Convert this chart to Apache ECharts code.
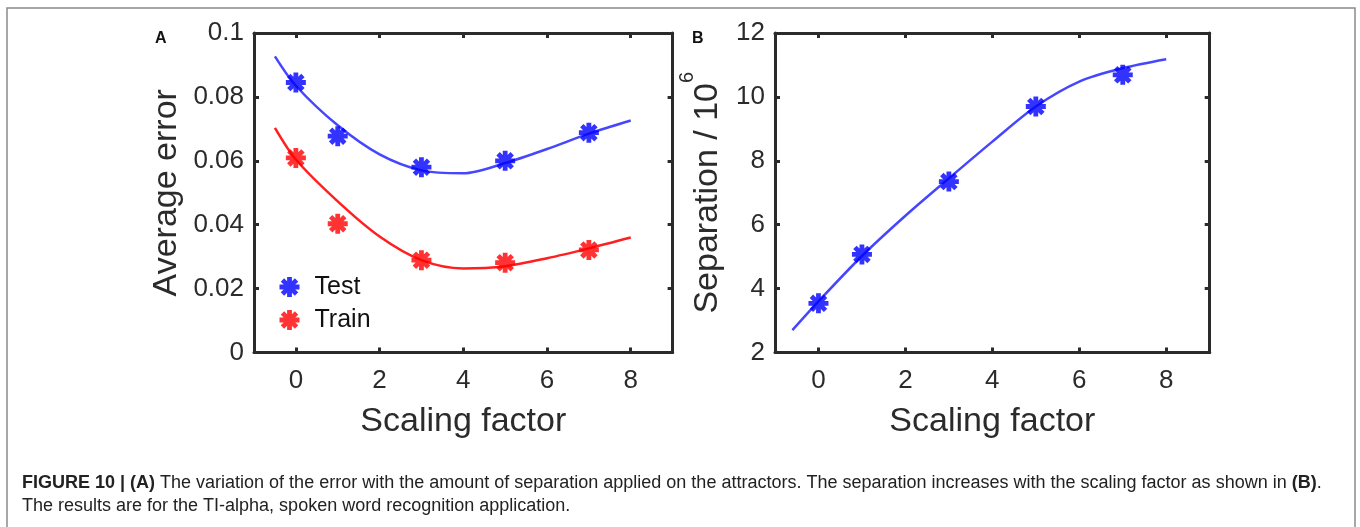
<!DOCTYPE html>
<html>
<head>
<meta charset="utf-8">
<script src="https://cdn.jsdelivr.net/npm/echarts@6.0.0/dist/echarts.min.js"></script>
<style>
  html, body { margin: 0; padding: 0; background: #fff; }
  #chart { width: 1360px; height: 527px; }
</style>
</head>
<body>
<div id="chart"></div>
<script>
// measured points
const scale = [0, 1, 3, 5, 7];
const testErr = [0.0845, 0.0677, 0.058, 0.060, 0.0688];
const trainErr = [0.0609, 0.0403, 0.0289, 0.0281, 0.0321];
const separation = [3.54, 5.07, 7.35, 9.70, 10.69];

// fitted curves
const fitX = [-0.5, 0, 1, 2, 3, 4, 5, 6, 7, 8];
const testFit = [0.0927, 0.0835, 0.0711, 0.062, 0.057, 0.0561, 0.0593, 0.0637, 0.0685, 0.0726];
const trainFit = [0.0703, 0.0604, 0.0473, 0.0363, 0.0289, 0.0263, 0.027, 0.0295, 0.0326, 0.036];
const sepFitX = [-0.6, 0, 1, 2, 3, 4, 5, 6, 7, 8];
const sepFit = [2.70, 3.60, 5.02, 6.28, 7.45, 8.60, 9.70, 10.48, 10.90, 11.18];

const xTicks = [0, 2, 4, 6, 8];

const FONT = "Liberation Sans";
const AX = "#2b2b2b";
// asterisk marker like matlab '*' (one outline, 8 arms)
const STAR = "path://M20 7.6L20 12.4L15.795 12.4L18.768 15.374L15.374 18.768L12.4 15.795L12.4 20L7.6 20L7.6 15.795L4.626 18.768L1.232 15.374L4.205 12.4L0 12.4L0 7.6L4.205 7.6L1.232 4.626L4.626 1.232L7.6 4.205L7.6 0L12.4 0L12.4 4.205L15.374 1.232L18.768 4.626L15.795 7.6Z";

const zip = (xs, ys) => xs.map((x, i) => [x, ys[i]]);

function xAxes(grid) {
  return [
    {
      type: "value", gridIndex: grid, min: -1, max: 9, position: "bottom",
      name: "Scaling factor", nameLocation: "middle", nameGap: 52,
      nameTextStyle: { fontFamily: FONT, fontSize: 34, color: AX },
      axisLine: { onZero: false, lineStyle: { color: AX, width: 3 } },
      axisTick: { inside: true, length: 5, customValues: xTicks, lineStyle: { color: AX, width: 3 } },
      axisLabel: { customValues: xTicks, margin: 15, fontFamily: FONT, fontSize: 26, color: AX },
      splitLine: { show: false }
    },
    {
      type: "value", gridIndex: grid, min: -1, max: 9, position: "top",
      axisLine: { onZero: false, lineStyle: { color: AX, width: 3 } },
      axisTick: { inside: true, length: 5, customValues: xTicks, lineStyle: { color: AX, width: 3 } },
      axisLabel: { show: false },
      splitLine: { show: false }
    }
  ];
}

function yAxes(grid, min, max, step, name, gap, nameStyle) {
  return [
    {
      type: "value", gridIndex: grid, min: min, max: max, interval: step, position: "left",
      name: name, nameLocation: "middle", nameGap: gap,
      nameTextStyle: nameStyle,
      axisLine: { show: true, onZero: false, lineStyle: { color: AX, width: 3 } },
      axisTick: { show: true, inside: true, length: 5, lineStyle: { color: AX, width: 3 } },
      axisLabel: { margin: 10, fontFamily: FONT, fontSize: 26, color: AX },
      splitLine: { show: false }
    },
    {
      type: "value", gridIndex: grid, min: min, max: max, interval: step, position: "right",
      axisLine: { show: true, onZero: false, lineStyle: { color: AX, width: 3 } },
      axisTick: { show: true, inside: true, length: 5, lineStyle: { color: AX, width: 3 } },
      axisLabel: { show: false },
      splitLine: { show: false }
    }
  ];
}

const option = {
  backgroundColor: "#fff",
  animation: false,
  grid: [
    { left: 254, top: 33, width: 418.6, height: 319.5 },
    { left: 775, top: 33, width: 434.7, height: 319.5 }
  ],
  legend: {
    data: ["Test", "Train"],
    orient: "vertical",
    left: 274.5,
    top: 269.5,
    itemWidth: 40,
    itemHeight: 20,
    itemGap: 8,
    textStyle: { fontFamily: FONT, fontSize: 25, color: "#111" }
  },
  xAxis: [...xAxes(0), ...xAxes(1)],
  yAxis: [
    ...yAxes(0, 0, 0.1, 0.02, "Average error", 70,
      { fontFamily: FONT, fontSize: 34, color: AX }),
    ...yAxes(1, 2, 12, 2, "{m|Separation / 10}{s|6}", 36,
      {
        color: AX,
        rich: {
          m: { fontFamily: FONT, fontSize: 34, lineHeight: 62, color: AX },
          s: { fontFamily: FONT, fontSize: 20, lineHeight: 20, verticalAlign: "top", color: AX }
        }
      })
  ],
  graphic: [
    {
      type: "rect", silent: true,
      shape: { x: 7, y: 8, width: 1348, height: 600 },
      style: { fill: "none", stroke: "#8a8a8a", lineWidth: 1.5 }
    },
    {
      type: "text", x: 155, y: 39,
      style: { text: "A", fontFamily: FONT, fontWeight: "bold", fontSize: 16, fill: "#111", verticalAlign: "middle" }
    },
    {
      type: "text", x: 692, y: 39,
      style: { text: "B", fontFamily: FONT, fontWeight: "bold", fontSize: 16, fill: "#111", verticalAlign: "middle" }
    },
    {
      type: "text", x: 22, y: 483,
      style: {
        text: "{b|FIGURE 10 | (A)} The variation of the error with the amount of separation applied on the attractors. The separation increases with the scaling factor as shown in {b|(B)}.",
        fontFamily: FONT, fontSize: 18, fill: "#222", verticalAlign: "middle",
        rich: { b: { fontFamily: FONT, fontSize: 18, fontWeight: "bold", fill: "#222" } }
      }
    },
    {
      type: "text", x: 22, y: 506,
      style: {
        text: "The results are for the TI-alpha, spoken word recognition application.",
        fontFamily: FONT, fontSize: 18, fill: "#222", verticalAlign: "middle"
      }
    }
  ],
  series: [
    {
      name: "Test fit", type: "line", xAxisIndex: 0, yAxisIndex: 0,
      data: zip(fitX, testFit), smooth: 0.3, showSymbol: false,
      lineStyle: { color: "#4646ff", width: 2.5 }, z: 2
    },
    {
      name: "Train fit", type: "line", xAxisIndex: 0, yAxisIndex: 0,
      data: zip(fitX, trainFit), smooth: 0.3, showSymbol: false,
      lineStyle: { color: "#ff1f1f", width: 2.5 }, z: 2
    },
    {
      name: "Test", type: "scatter", xAxisIndex: 0, yAxisIndex: 0,
      data: zip(scale, testErr), symbol: STAR, symbolSize: 20,
      itemStyle: { color: "#0000ff" }, z: 3
    },
    {
      name: "Train", type: "scatter", xAxisIndex: 0, yAxisIndex: 0,
      data: zip(scale, trainErr), symbol: STAR, symbolSize: 20,
      itemStyle: { color: "#ff0000" }, z: 3
    },
    {
      name: "Separation fit", type: "line", xAxisIndex: 2, yAxisIndex: 2,
      data: zip(sepFitX, sepFit), smooth: 0.3, showSymbol: false,
      lineStyle: { color: "#4646ff", width: 2.5 }, z: 2
    },
    {
      name: "Separation", type: "scatter", xAxisIndex: 2, yAxisIndex: 2,
      data: zip(scale, separation), symbol: STAR, symbolSize: 20,
      itemStyle: { color: "#0000ff" }, z: 3
    }
  ]
};

const myChart = echarts.init(document.getElementById("chart"), null, { renderer: "canvas" });
myChart.setOption(option);
</script>
</body>
</html>
